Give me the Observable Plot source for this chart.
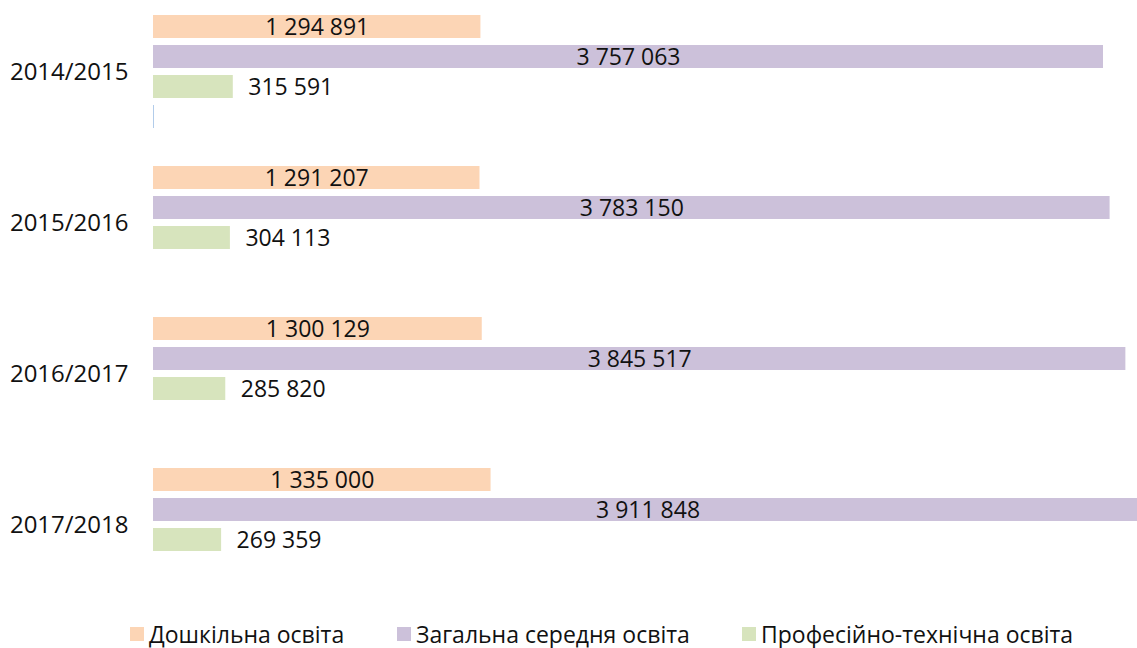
<!DOCTYPE html>
<html>
<head>
<meta charset="utf-8">
<script src="https://cdn.jsdelivr.net/npm/d3@7"></script>
<script src="https://cdn.jsdelivr.net/npm/@observablehq/plot@0.6"></script>
<style>
  html, body { margin: 0; padding: 0; background: #fff; overflow: hidden; }
  #chart { position: relative; width: 1137px; height: 648px; font-family: "Open Sans", sans-serif; }
  #legend { position: absolute; top: 620px; left: 0; width: 1137px; height: 28px; font-size: 23px; line-height: 28px; color: #111; }
  .item { position: absolute; top: 0; height: 28px; display: flex; align-items: center; white-space: nowrap; }
  .sw { width: 14px; height: 14px; margin-right: 5px; }
</style>
</head>
<body>
<div id="chart"><div id="legend"></div></div>
<script>
const years = ["2014/2015", "2015/2016", "2016/2017", "2017/2018"];
const seriesNames = ["Дошкільна освіта", "Загальна середня освіта", "Професійно-технічна освіта"];
const preschool = [1294891, 1291207, 1300129, 1335000];
const general = [3757063, 3783150, 3845517, 3911848];
const vocational = [315591, 304113, 285820, 269359];
const extra = [3500, null, null, null]; // thin stray bar seen in first group
const colors = ["#FCD5B5", "#CCC1DA", "#D7E4BD"];
const extraColor = "#A9C6E8";
const legendLeft = [130, 397, 742];

const data = [];
years.forEach((yr, i) => {
  data.push({year: yr, series: seriesNames[0], value: preschool[i], pos: "inside"});
  data.push({year: yr, series: seriesNames[1], value: general[i], pos: "inside"});
  data.push({year: yr, series: seriesNames[2], value: vocational[i], pos: "outside"});
  if (extra[i] != null) data.push({year: yr, series: "extra", value: extra[i], pos: "none"});
});

const fmt = d3.formatLocale({decimal: ",", thousands: " ", grouping: [3], currency: ["", ""]}).format(",d");

const plot = Plot.plot({
  width: 1137,
  height: 600,
  marginLeft: 153,
  marginRight: 0,
  marginTop: 10,
  marginBottom: 15,
  style: {fontFamily: "'Open Sans', sans-serif", fontSize: "23px", color: "#111", overflow: "hidden"},
  x: {domain: [0, 3757063], range: [153, 1103], axis: null},
  y: {domain: [...seriesNames, "extra"], axis: null, paddingInner: 0.24, paddingOuter: 0.12},
  fy: {domain: years, paddingInner: 0.2, paddingOuter: 0, label: null},
  color: {domain: [...seriesNames, "extra"], range: [...colors, extraColor]},
  marks: [
    Plot.axisFy({anchor: "left", tickSize: 0, tickPadding: 25, label: null, fontSize: 24}),
    Plot.barX(data, {x: "value", y: "series", fy: "year", fill: "series"}),
    Plot.text(data.filter(d => d.pos === "inside"), {
      x: d => d.value / 2, y: "series", fy: "year", text: d => fmt(d.value),
      fill: "#111", fontSize: 23, dy: 1
    }),
    Plot.text(data.filter(d => d.pos === "outside"), {
      x: "value", y: "series", fy: "year", text: d => fmt(d.value),
      fill: "#111", fontSize: 23, textAnchor: "start", dx: 15, dy: 1
    })
  ]
});
document.getElementById("chart").prepend(plot);

const legend = document.getElementById("legend");
seriesNames.forEach((name, i) => {
  const item = document.createElement("div");
  item.className = "item";
  item.style.left = legendLeft[i] + "px";
  const sw = document.createElement("span");
  sw.className = "sw";
  sw.style.background = colors[i];
  const t = document.createElement("span");
  t.textContent = name;
  item.append(sw, t);
  legend.append(item);
});
</script>
</body>
</html>
